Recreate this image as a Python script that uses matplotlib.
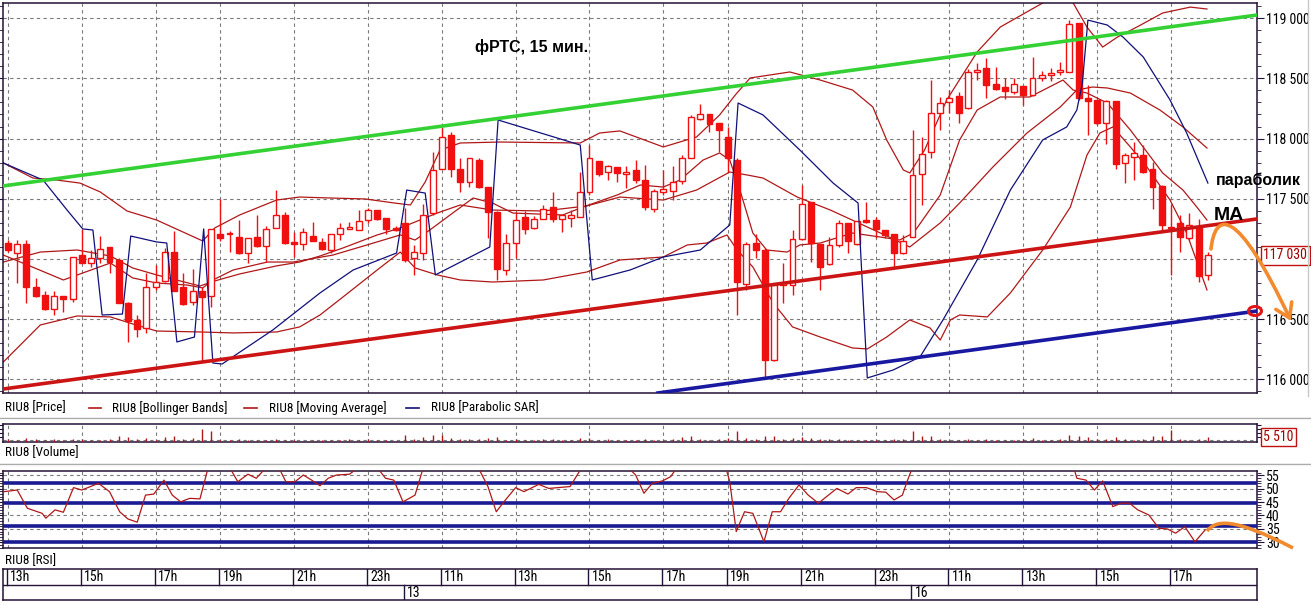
import matplotlib
matplotlib.use("Agg")
import matplotlib.pyplot as plt
from matplotlib import font_manager as fm
from matplotlib.patches import Rectangle, FancyArrowPatch, Ellipse, PathPatch
from matplotlib.path import Path
from matplotlib.lines import Line2D
from matplotlib.ticker import MultipleLocator, FixedLocator, NullFormatter

# ---------------- data ----------------
opens = [117135,117050,117120,116770,116700,116580,116690,116670,117030,116970,
 117010,117095,116995,116635,116490,116430,116770,116815,117055,116770,
 116645,116735,116695,117205,117205,117180,117045,117180,117110,117260,
 117365,117140,117120,117190,117140,117075,117205,117250,117240,117325,
 117410,117340,117255,117295,117005,117045,117380,117745,118030,117745,
 117635,117825,117595,117390,116905,117130,117345,117255,117335,117435,
 117335,117340,117350,117560,117815,117725,117765,117705,117740,117655,
 117415,117560,117565,117645,117835,118160,118205,118125,118010,117825,
 116795,117130,117075,116160,116785,116785,117165,117475,117125,116955,
 117115,117295,117125,117320,117325,117240,117205,117045,117180,117705,
 117890,118215,118305,118350,118250,118560,118585,118450,118430,118390,
 118440,118365,118500,118530,118555,118555,118960,118340,118320,118130,
 118310,117795,117845,117865,117745,117605,117265,117295,117170,117265,
 116865]
highs = [117155,117155,117160,116845,116735,116735,116690,117020,117245,117075,
 117190,117095,117010,116640,116530,116880,116950,117090,117235,116880,
 116920,116770,117245,117495,117230,117325,117170,117365,117270,117570,
 117390,117225,117260,117310,117170,117205,117295,117310,117405,117420,
 117410,117340,117270,117420,117115,117460,117890,118100,118055,117835,
 117835,117835,117595,117400,117205,117390,117400,117360,117450,117555,
 117365,117410,117725,117945,117815,117780,117765,117775,117820,117780,
 117580,117740,117770,117865,118195,118285,118205,118125,118100,117835,
 117140,117210,117090,116785,116965,117240,117615,117475,117125,117185,
 117320,117295,117315,117475,117345,117240,117205,117200,118070,118015,
 118490,118345,118400,118390,118580,118625,118665,118595,118500,118500,
 118440,118680,118565,118590,118640,118985,118960,118445,118320,118320,
 118310,117880,117975,117945,117805,117610,117450,117365,117380,117335,
 117060]
lows = [117060,116800,116630,116680,116575,116530,116555,116645,116965,116935,
 116965,116880,116630,116310,116355,116385,116745,116810,116730,116615,
 116615,116145,116600,117145,117060,117040,116965,117100,116975,117260,
 117120,117020,117075,117145,117075,117045,117155,117245,117240,117295,
 117325,117210,117230,116975,116865,116990,117365,117745,117680,117560,
 117600,117590,117170,116825,116865,117005,117210,117245,117335,117310,
 117225,117265,117350,117530,117690,117655,117635,117585,117630,117405,
 117390,117530,117490,117620,117835,118155,118055,117890,117725,116535,
 116740,117005,116015,116155,116630,116700,117160,116975,116745,116950,
 117100,117045,117115,117300,117170,117170,116935,117040,117180,117445,
 117835,118070,118210,118125,118245,118490,118335,118400,118325,118370,
 118280,118355,118475,118475,118530,118550,118320,118030,118115,117955,
 117745,117630,117655,117715,117415,117235,116865,117060,117160,116810,
 116825]
closes = [117075,117120,116765,116690,116580,116690,116665,117020,116970,117005,
 117080,116975,116635,116485,116415,116770,116810,117060,116735,116625,
 116735,116685,117245,117170,117215,117050,117170,117110,117245,117365,
 117130,117120,117220,117145,117080,117205,117255,117260,117315,117410,
 117335,117245,117245,116990,117060,117365,117740,118015,117750,117640,
 117835,117595,117390,116920,117130,117325,117245,117335,117415,117335,
 117365,117365,117560,117835,117705,117770,117710,117725,117655,117430,
 117565,117580,117635,117835,118175,118205,118120,118075,117835,116810,
 117120,117070,116160,116785,116800,117165,117455,117130,116935,117115,
 117300,117145,117315,117310,117245,117200,117045,117150,117695,117875,
 118210,118295,118340,118215,118555,118560,118445,118415,118395,118450,
 118365,118500,118525,118540,118570,118955,118340,118315,118130,118310,
 117790,117865,117880,117725,117600,117280,117255,117180,117280,116860,
 117030]
volumes = [3200,1800,4200,2600,2200,3400,1600,3600,2800,1500,
 2400,3000,6500,5200,2600,4800,2000,5600,6200,3000,
 4200,15000,12500,2400,1500,2600,1800,2200,1400,3000,
 2400,1600,1200,2000,1400,2200,1600,2600,1800,3000,
 1500,2000,1200,7500,3500,6000,8500,8000,4500,3600,
 2800,3200,4400,5600,2400,3000,2200,1800,2600,3400,
 1600,2400,3800,4600,2200,2800,1800,2400,2000,3600,
 2400,1800,3000,5800,6400,2600,2200,3000,4200,13000,
 4600,3000,7000,6400,3600,4000,5200,4400,3600,2800,
 3000,2400,2000,1600,2200,1800,2600,3000,12500,7000,
 6500,3000,2400,2000,3400,2200,2800,1800,2400,2000,
 3000,4200,2000,1800,2600,7500,7000,6000,3200,3000,
 5200,2800,2400,3600,6800,6200,14500,3000,2400,3600,
 5510]

bb_up_x = [-0.5,2.7,5.3,7.8,10.0,12.9,16.1,21.1,22.4,25.1,29.1,31.6,34.9,38.7,41.9,
 43.6,45.2,46.8,49.0,53.3,62.0,64.1,66.3,71.0,74.6,77.1,78.8,80.4,84.7,88.0,
 91.5,93.7,95.2,97.0,97.7,99.3,101.7,105.0,107.5,112.1,114.0,115.4,116.9,118.6,
 120.2,122.3,125.1,128.1,129.9]
bb_up_y = [117797,117672,117655,117630,117556,117398,117323,117149,117257,117365,
 117489,117514,117506,117498,117464,117448,117639,117904,117963,117971,
 117963,118046,118063,117930,118013,118196,118362,118503,118553,118486,
 118403,118262,117988,117739,117714,117904,118320,118719,118926,119126,
 119217,119126,118926,118760,118843,118926,119043,119092,119076]
bb_mid_x = [-0.5,3.5,7.5,11.1,13.5,16.1,20.8,22.4,25.1,29.1,31.6,33.8,36.3,40.0,42.5,
 46.5,49.0,52.5,58.0,62.7,66.3,71.0,74.6,78.2,80.1,81.8,85.5,89.1,93.1,95.2,
 97.7,101.0,103.1,106.7,110.4,114.0,115.8,117.5,119.1,121.6,124.8,127.3,129.9]
bb_mid_y = [116974,117057,117074,117024,116925,116867,116775,116817,116875,116942,
 116974,117024,117091,117199,117257,117381,117448,117406,117398,117440,
 117514,117489,117572,117722,117697,117672,117514,117406,117265,117191,
 117099,117299,117464,117763,118046,118262,118403,118428,118420,118378,
 118237,118096,117921]
bb_low_x = [-0.5,3.5,7.5,11.1,13.5,16.1,20.8,24.4,29.1,31.6,33.8,36.3,40.0,42.5,44.1,
 46.5,49.0,52.5,58.0,62.7,66.3,71.0,73.6,75.7,77.9,79.0,80.7,82.9,85.0,88.0,
 91.5,93.1,95.2,97.7,99.9,101.0,102.1,103.1,106.1,108.6,112.1,115.1,116.9,118.3,
 119.7,121.6,123.4,125.9,127.7,129.9]
bb_low_y = [116144,116451,116526,116518,116460,116401,116393,116385,116393,116435,
 116534,116684,116908,117057,116925,116867,116825,116808,116825,116891,
 116991,117016,117116,117132,117199,117074,116933,116634,116435,116351,
 116260,116252,116351,116493,116426,116326,116493,116534,116518,116717,
 117074,117431,117863,118046,118096,117930,117763,117489,117215,116742]
ma_x = [-0.5,2.1,6.0,8.1,11.1,13.5,16.1,19.4,21.1,22.2,24.4,28.1,30.9,35.2,38.9,
 42.5,44.1,45.7,47.9,50.4,52.5,54.7,60.1,62.3,66.0,68.5,71.0,72.8,75.3,77.1,
 78.2,79.3,80.7,82.2,84.4,85.8,88.0,91.5,94.5,96.6,98.1,101.0,103.1,105.0,107.5,
 110.7,114.3,115.4,116.9,119.1,121.6,125.1,127.3,128.8,129.9]
ma_y = [117032,116950,116825,116883,116966,116842,116800,116783,116759,116825,
 116908,116974,116974,117032,117116,117199,117157,117240,117365,117506,
 117464,117381,117365,117431,117531,117614,117597,117655,117821,117880,
 117821,117572,117215,117074,117057,117116,117132,117215,117182,117157,
 117215,117531,117988,118237,118345,118345,118486,118403,118378,118295,
 118071,117714,117572,117431,117323]
sar_x = [-0.5,3.8,6.4,8.1,9.2,10.2,12.4,13.3,16.1,17.2,18.3,20.2,21.2,22.2,23.2,
 28.7,33.8,37.4,42.1,43.2,45.2,46.3,52.2,53.1,62.0,63.3,67.4,71.0,75.0,78.2,
 79.1,81.8,85.8,89.4,92.1,93.1,95.9,98.8,101.3,105.0,108.6,112.1,114.7,115.8,
 116.4,117.0,119.1,120.8,123.0,125.9,127.7,130.0]
sar_y = [117797,117655,117406,117249,117240,116534,116542,117190,117141,117132,
 116310,116351,117249,116135,116127,116410,116717,116908,117049,117572,
 117547,116867,117099,118154,117946,116825,116908,117016,117074,117282,
 118295,118196,117904,117630,117464,116011,116077,116185,116493,116991,
 117572,117988,118096,118237,118461,118984,118943,118843,118677,118320,
 118046,117630]
rsi_x = [-0.4,1.0,2.1,3.7,4.1,5.1,6.0,7.1,8.0,9.8,
 11.0,12.1,13.0,14.0,14.9,15.8,16.9,17.8,18.7,19.7,
 20.8,22.0,23.0,24.0,24.9,26.0,26.9,28.0,29.4,30.1,
 31.1,32.0,32.9,33.8,34.7,35.6,37.0,38.0,39.2,40.2,
 40.9,41.8,42.8,44.1,45.0,46.0,48.0,50.0,51.0,52.0,
 52.9,53.8,55.0,55.9,57.5,58.6,60.9,62.1,63.5,65.5,
 67.3,68.0,68.9,69.8,70.9,71.8,72.5,74.0,76.0,77.8,
 78.2,78.9,79.8,80.7,81.9,82.8,83.7,84.6,85.7,86.7,
 87.8,89.8,91.0,91.9,93.0,94.2,95.1,96.0,96.9,97.4,
 98.0,100.0,105.0,110.0,114.0,115.5,115.8,116.8,117.7,118.6,
 119.7,120.6,121.5,122.4,123.6,124.7,125.6,126.5,127.5,128.6,
 129.7]
rsi_y = [48.9,49.5,42.7,40.8,39.0,42.1,41.2,50.4,49.5,52.0,
 48.9,41.4,38.7,37.5,47.6,48.0,53.2,47.6,45.1,46.4,
 46.2,62.0,63.0,58.0,52.6,55.4,53.9,58.0,57.5,52.6,
 52.6,55.1,53.2,51.1,53.9,55.1,55.4,58.0,60.0,57.0,
 53.9,53.2,45.1,47.6,58.0,66.0,70.0,64.0,57.5,50.8,
 41.4,45.4,50.4,48.9,51.6,50.1,50.8,57.5,65.0,62.0,
 57.5,55.1,48.3,52.0,52.9,54.5,58.0,66.0,68.0,57.5,
 52.6,34.0,41.4,40.8,30.2,41.4,41.4,46.4,51.4,47.6,
 44.6,50.1,48.0,50.4,50.4,48.9,48.7,45.8,47.6,52.6,
 58.0,70.0,72.0,70.0,74.0,57.5,53.9,53.2,49.5,52.9,
 43.3,44.6,44.6,42.1,40.2,35.2,35.0,33.4,35.8,30.2,
 34.6]
rsi_levels = [52.2, 44.6, 36.2, 30.1]
rsi_ticks = [30, 35, 40, 45, 50, 55]

green_x, green_y = [-0.54, 135.32], [117606, 119026]
support_x, support_y = [-0.54, 135.32], [115919, 117332]
lower_x, lower_y = [70.4, 135.32], [115886, 116567]

price_ticks = [116000, 116500, 117000, 117500, 118000, 118500, 119000]
price_labels = ['116 000', '116 500', '', '117 500', '118 000', '118 500', '119 000']
tick_idx = [0, 8, 16, 23, 31, 39, 47, 55, 63, 71, 78, 86, 94, 102, 110, 118, 126]
tick_lab = ['13h', '15h', '17h', '19h', '21h', '23h', '11h', '13h', '15h', '17h',
            '19h', '21h', '23h', '11h', '13h', '15h', '17h']
date_idx = [43, 98]
date_lab = ['13', '16']
last_price, last_price_lab = 117030, '117 030'
last_volume, last_volume_lab = 5510, '5 510'

# ---------------- fonts ----------------
def font_ok(name):
    try:
        fm.findfont(fm.FontProperties(family=name), fallback_to_default=False)
        return True
    except Exception:
        return False


COND = None
for cand in ['Liberation Sans Narrow', 'Roboto Condensed', 'Arial Narrow', 'Open Sans Condensed']:
    if font_ok(cand):
        COND = cand
        break
if COND is None:
    NARROW = ['Liberation Sans', 'DejaVu Sans']
    FS_TICK, FS_LEG = 8.6, 8.0
else:
    NARROW = [COND, 'Liberation Sans', 'DejaVu Sans']
    FS_TICK, FS_LEG = 10.0, 9.5
BOLD = ['Liberation Sans', 'DejaVu Sans']
plt.rcParams['font.family'] = NARROW

# ---------------- style ----------------
W, H = 1311, 602
RED = '#f01010'
IND = '#b01818'
NAVY = '#10107a'
GRIDC = '#7a7a7a'
FRAME = '#241236'
ORANGE = '#f28a2e'
DASH = (0, (3, 3))
XMIN, XMAX = -0.54, 135.32
BW = 0.64

fig = plt.figure(figsize=(W / 100, H / 100), dpi=100)
fig.patch.set_facecolor('white')


def rect(x0, y0, x1, y1):
    return [x0 / W, 1 - y1 / H, (x1 - x0) / W, (y1 - y0) / H]


def fpt(x, y):
    return (x / W, 1 - y / H)


def frame(a):
    for s in a.spines.values():
        s.set_color(FRAME)
        s.set_linewidth(1.1)
    a.set_xlim(XMIN, XMAX)
    a.set_xticks([])
    a.tick_params(axis='x', which='both', bottom=False, top=False, labelbottom=False)


# ---------------- main price panel ----------------
ax = fig.add_axes(rect(3, 3, 1257, 393))
frame(ax)
ax.set_ylim(115886, 119126)
for t in tick_idx:
    ax.axvline(t, color=GRIDC, lw=0.8, ls=DASH, zorder=1)
for p in price_ticks:
    ax.axhline(p, color=GRIDC, lw=0.8, ls=DASH, zorder=1)

ax.plot(bb_up_x, bb_up_y, color=IND, lw=0.9, zorder=2)
ax.plot(bb_mid_x, bb_mid_y, color=IND, lw=0.9, zorder=2)
ax.plot(bb_low_x, bb_low_y, color=IND, lw=0.9, zorder=2)
ax.plot(ma_x, ma_y, color=IND, lw=0.9, zorder=2)

n = len(opens)
xs = list(range(n))
ax.vlines(xs, lows, highs, color=RED, lw=1, zorder=3)
for i in xs:
    o, c = opens[i], closes[i]
    lo, hi = min(o, c), max(o, c)
    if hi - lo < 12:
        m = (hi + lo) / 2
        lo, hi = m - 6, m + 6
    ax.add_patch(Rectangle((i - BW / 2, lo), BW, hi - lo,
                           facecolor='white' if c >= o else RED,
                           edgecolor=RED, lw=1, zorder=4))

ax.plot(sar_x, sar_y, color=NAVY, lw=0.9, zorder=5)
ax.plot(green_x, green_y, color='#33d133', lw=2.6, zorder=6)
ax.plot(support_x, support_y, color='#cc1414', lw=2.6, zorder=6)
ax.plot(lower_x, lower_y, color='#1818a0', lw=2.6, zorder=6)

ax.yaxis.set_major_locator(FixedLocator(price_ticks))
ax.set_yticklabels(price_labels)
ax.yaxis.set_minor_locator(MultipleLocator(100))
ax.tick_params(axis='y', which='both', left=True, right=True, labelleft=False,
               labelright=True, direction='out', colors=FRAME, labelcolor='black',
               labelsize=FS_TICK, pad=1.5)
ax.tick_params(axis='y', which='major', length=5)
ax.tick_params(axis='y', which='minor', length=3)
ax.text(XMAX + 0.7, last_price, last_price_lab, ha='left', va='center', fontsize=FS_TICK,
        color='#a00000', clip_on=False, zorder=10,
        bbox=dict(boxstyle='square,pad=0.18', fc='white', ec='#c01010', lw=1))

# ---------------- volume panel ----------------
av = fig.add_axes(rect(3, 424, 1257, 441.5))
frame(av)
av.set_ylim(0, 21500)
for t in tick_idx:
    av.axvline(t, color=GRIDC, lw=0.8, ls=DASH, zorder=1)
av.axhline(2200, color=GRIDC, lw=0.8, ls=DASH, zorder=1)
av.vlines(xs, 0, volumes, color=IND, lw=1, zorder=3)
av.yaxis.set_major_locator(FixedLocator([5000, 10000, 15000, 20000]))
av.yaxis.set_major_formatter(NullFormatter())
av.tick_params(axis='y', left=True, right=True, length=3, direction='out', colors=FRAME)
av.text(XMAX + 0.7, last_volume, last_volume_lab, ha='left', va='center', fontsize=FS_TICK,
        color='#a00000', clip_on=False, zorder=10,
        bbox=dict(boxstyle='square,pad=0.15', fc='white', ec='#c01010', lw=1))

# ---------------- RSI panel ----------------
ar = fig.add_axes(rect(3, 471, 1257, 548))
frame(ar)
ar.set_ylim(27.87, 56.6)
for t in tick_idx:
    ar.axvline(t, color=GRIDC, lw=0.8, ls=DASH, zorder=1)
for v in rsi_ticks:
    ar.axhline(v, color=GRIDC, lw=0.8, ls=DASH, zorder=1)
for v in rsi_levels:
    ar.axhline(v, color='#1a1a92', lw=2.6, zorder=3)
ar.plot(rsi_x, rsi_y, color=IND, lw=0.9, zorder=4)
ar.yaxis.set_major_locator(FixedLocator(rsi_ticks))
ar.set_yticklabels([str(v) for v in rsi_ticks])
ar.yaxis.set_minor_locator(MultipleLocator(1))
ar.tick_params(axis='y', which='both', left=True, right=True, labelleft=False,
               labelright=True, direction='out', colors=FRAME, labelcolor='black',
               labelsize=FS_TICK, pad=1.5)
ar.tick_params(axis='y', which='major', length=5)
ar.tick_params(axis='y', which='minor', length=3)

# ---------------- time axis strip ----------------
axx = fig.add_axes(rect(3, 569, 1257, 600))
frame(axx)
axx.set_ylim(0, 2)
axx.set_yticks([])
axx.axhline(1, color=FRAME, lw=1)
for t, lab in zip(tick_idx, tick_lab):
    axx.plot([t - 0.12, t - 0.12], [1, 2], color=FRAME, lw=1)
    axx.text(t + 0.25, 1.47, lab, ha='left', va='center', fontsize=FS_TICK)
for t, lab in zip(date_idx, date_lab):
    axx.plot([t - 0.12, t - 0.12], [0, 1], color=FRAME, lw=1)
    axx.text(t + 0.25, 0.47, lab, ha='left', va='center', fontsize=FS_TICK)

# ---------------- legend rows & separators ----------------
for yy, col in [(417.5, '#9a9a9a'), (418.5, '#f4f4f4'), (464, '#9a9a9a'), (465, '#f4f4f4')]:
    fig.add_artist(Line2D([0, 1], [1 - yy / H] * 2, color=col, lw=1, transform=fig.transFigure))
fig.add_artist(Line2D([1308 / W] * 2, [1 - 0 / H, 1 - 396 / H], color='#c8c8c8', lw=1,
                      transform=fig.transFigure))
LY = 408
fig.text(*fpt(5, LY), 'RIU8 [Price]', va='center', fontsize=FS_LEG)
for (x0, x1), col, lab, tx in [((89, 101), IND, 'RIU8 [Bollinger Bands]', 112),
                               ((244, 257), IND, 'RIU8 [Moving Average]', 269),
                               ((406, 419), NAVY, 'RIU8 [Parabolic SAR]', 431)]:
    fig.add_artist(Line2D([x0 / W, x1 / W], [1 - LY / H] * 2, color=col, lw=1.2,
                          transform=fig.transFigure))
    fig.text(*fpt(tx, LY), lab, va='center', fontsize=FS_LEG)
fig.text(*fpt(5, 453), 'RIU8 [Volume]', va='center', fontsize=FS_LEG)
fig.text(*fpt(5, 561), 'RIU8 [RSI]', va='center', fontsize=FS_LEG)

# ---------------- hand-drawn annotations ----------------
fig.text(*fpt(532, 47), 'фРТС, 15 мин.', ha='center', va='center', fontsize=11.5,
         fontweight='bold', family=BOLD)
fig.text(*fpt(1258, 180), 'параболик', ha='center', va='center', fontsize=11.5,
         fontweight='bold', family=BOLD, zorder=20)
fig.text(*fpt(1229, 215), 'MA', ha='center', va='center', fontsize=14,
         fontweight='bold', family=BOLD, zorder=20)

arrow_path = Path([fpt(1211, 249), fpt(1215, 212), fpt(1236, 204), fpt(1291, 321)],
                  [Path.MOVETO, Path.CURVE4, Path.CURVE4, Path.CURVE4])
fig.add_artist(FancyArrowPatch(path=arrow_path, arrowstyle='->,head_length=0.7,head_width=0.45',
                               mutation_scale=14, color=ORANGE, lw=2.6,
                               transform=fig.transFigure, zorder=20))
rsi_path = Path([fpt(1207, 531), fpt(1216, 520), fpt(1233, 517), fpt(1293, 548)],
                [Path.MOVETO, Path.CURVE4, Path.CURVE4, Path.CURVE4])
fig.add_artist(PathPatch(rsi_path, fill=False, ec=ORANGE, lw=2.6,
                         transform=fig.transFigure, zorder=20))
fig.add_artist(Ellipse(fpt(1255, 311), 13 / W, 9 / H, fill=False, ec='#e01818', lw=2.2,
                       transform=fig.transFigure, zorder=21))

fig.savefig('out.png', dpi=100, facecolor='white')
